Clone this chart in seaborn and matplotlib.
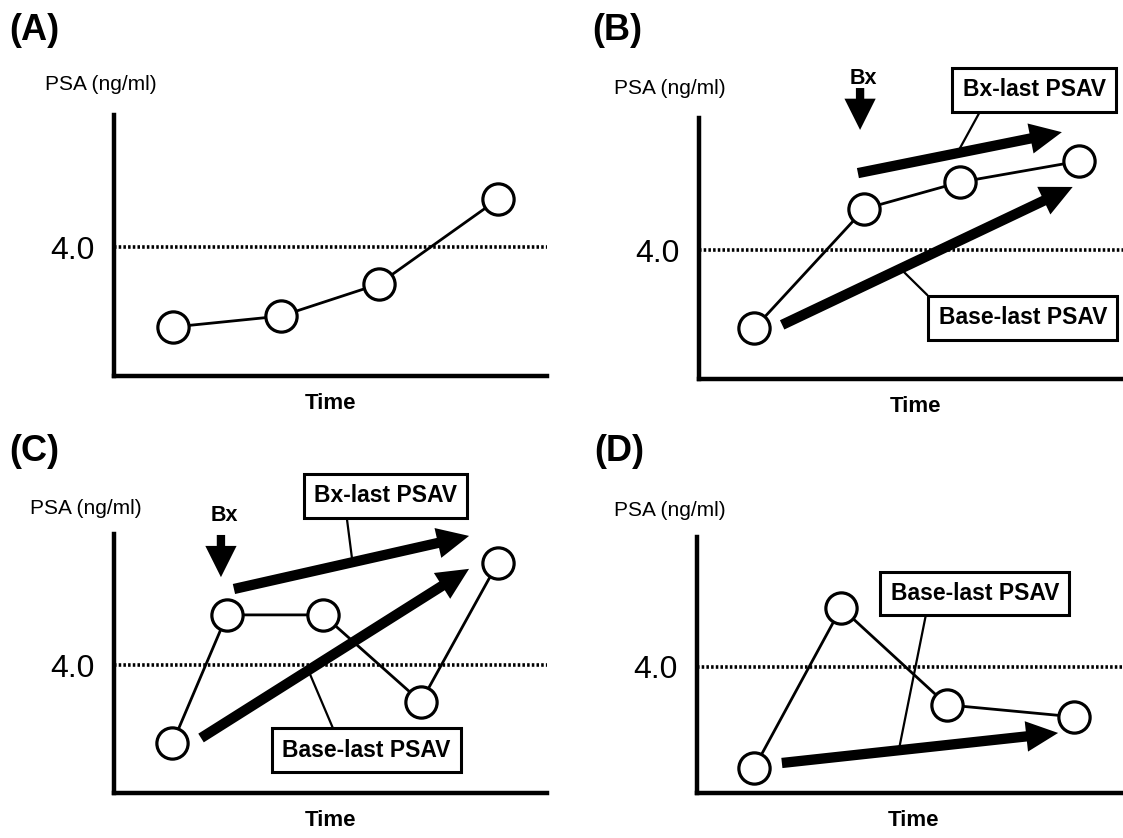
import matplotlib
matplotlib.use("Agg")
import matplotlib.pyplot as plt
import seaborn as sns
import pandas as pd

# ---------------- data (schematic PSA values, threshold 4.0) ----------------
panel_labels = ["(A)", "(B)", "(C)", "(D)"]
threshold = 4.0
threshold_label = "4.0"
y_title = "PSA (ng/ml)"
x_title = "Time"

time_A = [1.36, 3.86, 6.11, 8.87]
psa_A = [1.52, 1.86, 2.85, 5.49]

time_B = [1.28, 3.82, 6.03, 8.78]
psa_B = [1.58, 5.28, 6.11, 6.76]

time_C = [1.35, 2.61, 4.83, 7.09, 8.86]
psa_C = [1.56, 5.57, 5.57, 2.85, 7.19]

time_D = [1.32, 3.33, 5.77, 8.71]
psa_D = [0.79, 5.86, 2.79, 2.41]

# PSAV arrows (start, end) in data units
bx_last_B = [(3.67, 6.39), (8.38, 7.66)]
base_last_B = [(1.92, 1.68), (8.63, 5.96)]
bx_last_C = [(2.77, 6.38), (8.20, 8.04)]
base_last_C = [(2.01, 1.72), (8.20, 7.01)]
base_last_D = [(1.96, 0.95), (8.34, 1.90)]

# biopsy (Bx) marker: (x, top, tip)
bx_B = (3.72, 9.03, 7.73)
bx_C = (2.47, 8.07, 6.75)

# ---------------- layout ----------------
W, H = 1123, 838
sns.set_theme(style="white")
plt.rcParams["font.family"] = ["Liberation Sans", "DejaVu Sans"]
plt.rcParams["text.color"] = "black"
plt.rcParams["axes.labelcolor"] = "black"
plt.rcParams["xtick.color"] = "black"
plt.rcParams["ytick.color"] = "black"

fig = plt.figure(figsize=(W / 100, H / 100), dpi=100)

def rect(left, bottom_px, width, height):
    return [left / W, (H - bottom_px) / H, width / W, height / H]

axes_rects = [rect(114, 376, 433, 261), rect(699, 379, 433, 261),
              rect(114, 793, 433, 259), rect(697, 793, 433, 256)]
panel_label_pos = [(9, 31), (592, 31), (9, 451), (594, 451)]
ytitle_pos = [(101, 85), (670, 89), (86, 508), (670, 510)]

series = [(time_A, psa_A), (time_B, psa_B), (time_C, psa_C), (time_D, psa_D)]
axes = []
for i, (r, (t, p)) in enumerate(zip(axes_rects, series)):
    ax = fig.add_axes(r)
    axes.append(ax)
    df = pd.DataFrame({"Time": t, "PSA": p})
    ax.axhline(threshold, color="black", lw=2.6, ls=(0, (0.7, 0.6)), zorder=1)
    sns.lineplot(data=df, x="Time", y="PSA", ax=ax, color="black", lw=2.0,
                 marker="o", markersize=22.5, markerfacecolor="white",
                 markeredgecolor="black", markeredgewidth=2.3, zorder=3,
                 clip_on=False)
    ax.set_xlim(0, 10)
    ax.set_ylim(0, 8.1)
    sns.despine(ax=ax)
    for s in ("left", "bottom"):
        ax.spines[s].set_linewidth(3.2)
        ax.spines[s].set_color("black")
    ax.set_xticks([])
    ax.set_yticks([threshold])
    ax.set_yticklabels([threshold_label], fontsize=23, color="black")
    ax.tick_params(axis="y", length=0, pad=14)
    ax.set_ylabel("")
    ax.set_xlabel(x_title, fontsize=16, fontweight="bold", labelpad=12, color="black")

    lx, ly = panel_label_pos[i]
    fig.text(lx / W, 1 - ly / H, panel_labels[i], fontsize=26,
             fontweight="bold", ha="left", va="center", color="black")
    tx, ty = ytitle_pos[i]
    fig.text(tx / W, 1 - ty / H, y_title, fontsize=15, ha="center", va="center",
             color="black")


def psav_arrow(ax, seg):
    ax.annotate("", xy=seg[1], xytext=seg[0], annotation_clip=False,
                arrowprops=dict(arrowstyle="simple,head_length=1.15,head_width=1.1,tail_width=0.37",
                                mutation_scale=20, fc="black", ec="none",
                                shrinkA=0, shrinkB=0), zorder=4)


def bx_marker(ax, bx, text_y):
    x, top, tip = bx
    ax.annotate("", xy=(x, tip), xytext=(x, top), annotation_clip=False,
                arrowprops=dict(arrowstyle="simple,head_length=1.5,head_width=1.5,tail_width=0.4",
                                mutation_scale=15, fc="black", ec="none",
                                shrinkA=0, shrinkB=0), zorder=4)
    ax.text(x + 0.08, text_y, "Bx", fontsize=15.5, fontweight="bold",
            ha="center", va="center", clip_on=False, color="black")


def boxed_label(ax, text, center, target, relpos):
    ax.annotate(text, xy=target, xytext=center, ha="center", va="center",
                fontsize=16.5, fontweight="bold", annotation_clip=False, color="black",
                bbox=dict(boxstyle="square,pad=0.45", fc="white", ec="black", lw=2.2),
                arrowprops=dict(arrowstyle="-", color="black", lw=1.6,
                                relpos=relpos, shrinkA=0, shrinkB=0), zorder=5)


axB, axC, axD = axes[1], axes[2], axes[3]

# Panel B
psav_arrow(axB, bx_last_B)
psav_arrow(axB, base_last_B)
bx_marker(axB, bx_B, 9.34)
boxed_label(axB, "Bx-last PSAV", (7.74, 8.97), (5.98, 7.05), (0.16, 0.0))
boxed_label(axB, "Base-last PSAV", (7.48, 1.90), (4.71, 3.35), (0.0, 1.0))

# Panel C
psav_arrow(axC, bx_last_C)
psav_arrow(axC, base_last_C)
bx_marker(axC, bx_C, 8.69)
boxed_label(axC, "Bx-last PSAV", (6.27, 9.29), (5.5, 7.3), (0.22, 0.0))
boxed_label(axC, "Base-last PSAV", (5.82, 1.34), (4.5, 3.8), (0.33, 1.0))

# Panel D
psav_arrow(axD, base_last_D)
boxed_label(axD, "Base-last PSAV", (6.42, 6.31), (4.67, 1.42), (0.22, 0.0))

fig.savefig("out.png", dpi=100, facecolor="white")
